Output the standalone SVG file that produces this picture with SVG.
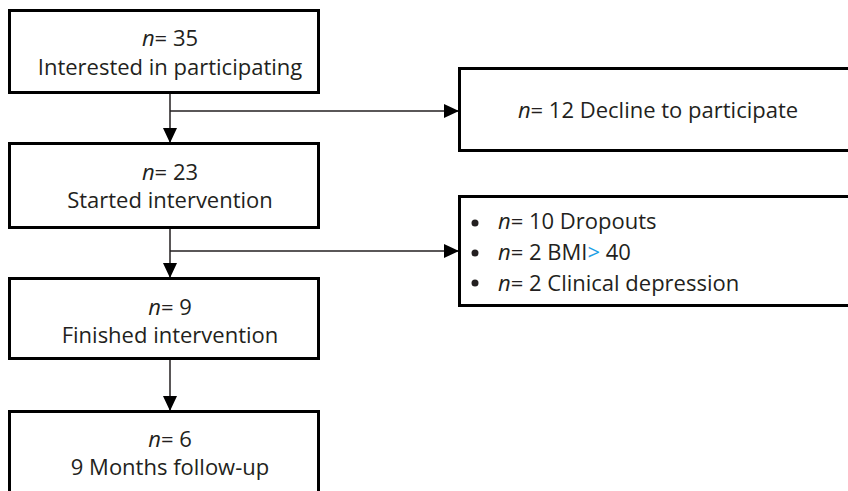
<svg xmlns="http://www.w3.org/2000/svg" width="848" height="491" viewBox="0 0 848 491">
  <defs>
    <marker id="arrow" markerUnits="userSpaceOnUse" markerWidth="16" markerHeight="16" refX="15" refY="7" orient="auto">
      <path d="M0,0 L15,7 L0,14 Z" fill="#000"/>
    </marker>
    <style>
      .box { fill: #fff; stroke: #000; stroke-width: 3; }
      .conn { fill: none; stroke: #231f20; stroke-width: 1.5; }
      text { font-family: "Open Sans", "Noto Sans", "Liberation Sans", sans-serif; font-size: 22px; fill: #231f20; }
      .c { text-anchor: middle; }
      .i { font-style: italic; }
      .blue { fill: #1ea0e6; }
      .dot { fill: #231f20; }
    </style>
  </defs>
  <rect width="848" height="491" fill="#fff"/>

  <g id="connectors">
    <path class="conn" d="M170,93 V143" marker-end="url(#arrow)"/>
    <path class="conn" d="M170,111 H459" marker-end="url(#arrow)"/>
    <path class="conn" d="M170,228 V278" marker-end="url(#arrow)"/>
    <path class="conn" d="M170,251 H459" marker-end="url(#arrow)"/>
    <path class="conn" d="M170,359 V411" marker-end="url(#arrow)"/>
  </g>

  <g id="node-interested">
    <rect class="box" x="9.5" y="10.5" width="309" height="82"/>
    <text class="c" x="170" y="46"><tspan class="i">n</tspan>= 35</text>
    <text class="c" x="170" y="75">Interested in participating</text>
  </g>

  <g id="node-started">
    <rect class="box" x="9.5" y="143.5" width="309" height="84"/>
    <text class="c" x="170" y="180"><tspan class="i">n</tspan>= 23</text>
    <text class="c" x="170" y="208">Started intervention</text>
  </g>

  <g id="node-finished">
    <rect class="box" x="9.5" y="278.5" width="309" height="80"/>
    <text class="c" x="170" y="315"><tspan class="i">n</tspan>= 9</text>
    <text class="c" x="170" y="343">Finished intervention</text>
  </g>

  <g id="node-followup">
    <rect class="box" x="9.5" y="411.5" width="309" height="90"/>
    <text class="c" x="170" y="447"><tspan class="i">n</tspan>= 6</text>
    <text class="c" x="170" y="475">9 Months follow-up</text>
  </g>

  <g id="node-decline">
    <rect class="box" x="459.5" y="68.5" width="400" height="82"/>
    <text class="c" x="658" y="118"><tspan class="i">n</tspan>= 12 Decline to participate</text>
  </g>

  <g id="node-dropouts">
    <rect class="box" x="459.5" y="196.5" width="400" height="109"/>
    <circle class="dot" cx="475" cy="223" r="3.5"/>
    <circle class="dot" cx="475" cy="253" r="3.5"/>
    <circle class="dot" cx="475" cy="283" r="3.5"/>
    <text x="498" y="229"><tspan class="i">n</tspan>= 10 Dropouts</text>
    <text x="498" y="260"><tspan class="i">n</tspan>= 2 BMI<tspan class="blue">&gt;</tspan> 40</text>
    <text x="498" y="291"><tspan class="i">n</tspan>= 2 Clinical depression</text>
  </g>
</svg>
